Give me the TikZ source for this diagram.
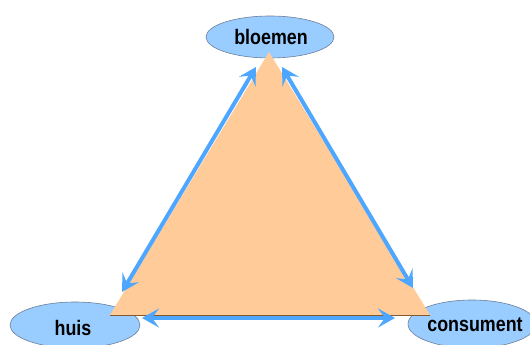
\documentclass[tikz,border=0pt]{standalone}
\usepackage{fontspec}
\setmainfont{Liberation Sans}
\usetikzlibrary{arrows.meta}
\definecolor{peach}{HTML}{FFCC99}
\definecolor{ellblue}{HTML}{99CCFF}
\definecolor{arrblue}{HTML}{4DA6FF}
\definecolor{ellline}{HTML}{6A7F99}
\begin{document}
\begin{tikzpicture}[x=1pt,y=-1pt,
  ellbox/.style={draw=ellline,line width=0.6pt,fill=ellblue},
  lab/.style={font=\bfseries\fontsize{21}{23}\selectfont,inner sep=0pt,xscale=0.85},
  edgearrow/.style={draw=arrblue,line width=4pt,{Stealth[length=17pt,width=19pt,inset=7pt]}-{Stealth[length=17pt,width=19pt,inset=7pt]}}]
\useasboundingbox (0,0) rectangle (530,345);
% ellipses
\draw[ellbox] (270,37) ellipse [x radius=64, y radius=21];
\draw[ellbox] (75,325) ellipse [x radius=65, y radius=23];
\draw[ellbox] (472,324) ellipse [x radius=64, y radius=24];
% triangle
\coordinate (t) at (269,52);
\coordinate (l) at (110,315);
\coordinate (r) at (430,315);
\fill[peach] (t) -- (l) -- (r) -- cycle;
\draw[draw=brown!70!black,line width=0.7pt] (l) -- (r);
% arrow end points
\coordinate (a1) at (122,292);
\coordinate (a2) at (256,67);
\coordinate (b1) at (282,67);
\coordinate (b2) at (413,288);
\coordinate (c1) at (142,318);
\coordinate (c2) at (395,318);
\draw[edgearrow] (a1) -- (a2);
\draw[edgearrow] (b1) -- (b2);
\draw[edgearrow] (c1) -- (c2);
% labels
\node[lab] (bloemen) at (271,37) {bloemen};
\node[lab] (huis) at (73,328) {huis};
\node[lab] (consument) at (475,325) {consument};
\end{tikzpicture}
\end{document}
